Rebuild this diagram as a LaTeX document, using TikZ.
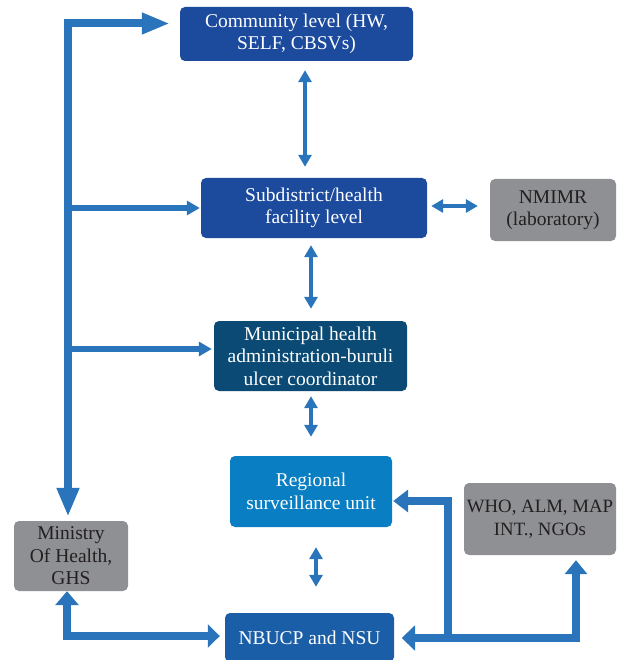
\documentclass[tikz,border=0pt]{standalone}
\usepackage{fontspec}
\setmainfont{Liberation Serif}
\usetikzlibrary{arrows.meta,calc}
\definecolor{boxblue}{HTML}{1C4A9D}
\definecolor{munblue}{HTML}{0B4A74}
\definecolor{regblue}{HTML}{0A7EC2}
\definecolor{nbblue}{HTML}{1B5EA8}
\definecolor{boxgray}{HTML}{8F9093}
\definecolor{arrowblue}{HTML}{2A74BB}
\definecolor{darktext}{HTML}{231F20}
\begin{document}
\begin{tikzpicture}[x=1pt,y=-1pt,
  box/.style={rounded corners=5pt, inner sep=0pt, align=center,
    font=\fontsize{19.5}{22.5}\selectfont, text=white},
  graybox/.style={box, fill=boxgray, text=darktext},
  thinarrow/.style={draw=arrowblue, line width=3.5pt,
    {Triangle[length=12pt,width=13pt]}-{Triangle[length=12pt,width=13pt]}},
  midarrow/.style={draw=arrowblue, line width=5.5pt,
    -{Triangle[length=13pt,width=14pt]}},
  thickline/.style={draw=arrowblue, line width=8pt}
]
\useasboundingbox (0,0) rectangle (616,660);
\clip (0,0) rectangle (616,660);

% boxes
\node[box, fill=boxblue, minimum width=233pt, minimum height=54pt] (comm) at (296.5,34) {Community level (HW,\\SELF, CBSVs)};
\node[box, fill=boxblue, minimum width=226pt, minimum height=60pt] (sub) at (314,208) {Subdistrict/health\\facility level};
\node[graybox, minimum width=126pt, minimum height=62pt] (nm) at (553,210) {NMIMR\\(laboratory)};
\node[box, fill=munblue, minimum width=193pt, minimum height=70pt] (mun) at (310.5,356) {Municipal health\\administration-buruli\\ulcer coordinator};
\node[box, fill=regblue, minimum width=162pt, minimum height=71pt] (reg) at (311,491.5) {Regional\\surveillance unit};
\node[graybox, minimum width=114pt, minimum height=70pt] (min) at (71,556) {Ministry\\Of Health,\\GHS};
\node[graybox, minimum width=152pt, minimum height=72pt, font=\fontsize{18.8}{22.5}\selectfont] (who) at (540,519) {WHO, ALM, MAP\\INT., NGOs};
\node[box, fill=nbblue, minimum width=169pt, minimum height=49pt] (nb) at (309.5,637.5) {NBUCP and NSU};

% helper coordinates
\coordinate (tl) at (68,23.5);
\coordinate (mw) at ($(mun.west)+(0,-7)$);
\coordinate (xa) at (305,0);
\coordinate (xb) at (311,0);
\coordinate (xc) at (316,0);
\coordinate (ya) at (0,206);
\coordinate (bl) at (67,636);
\coordinate (br) at (576,638);
\coordinate (bm) at (448,641);
\coordinate (bt) at (448,501);

% left big arrow
\draw[thickline, {Triangle[length=29pt,width=21pt]}-{Triangle[length=28pt,width=20pt]},
  shorten <=4pt, shorten >=10pt] (tl |- min.north) -- (tl) -- (tl -| comm.west);
\draw[midarrow, shorten >=1pt] (tl |- sub.west) -- (sub.west);
\draw[midarrow, shorten >=2pt] (tl |- mw) -- (mw);

% thin double arrows
\draw[thinarrow, shorten <=9pt, shorten >=11pt] (comm.south -| xa) -- (sub.north -| xa);
\draw[thinarrow, shorten <=7pt, shorten >=12pt] (sub.south -| xb) -- (mun.north -| xb);
\draw[thinarrow, shorten <=5pt, shorten >=19pt] (mun.south -| xb) -- (reg.north -| xb);
\draw[thinarrow, shorten <=20pt, shorten >=26pt] (reg.south -| xc) -- (nb.north -| xc);
\draw[thinarrow, shorten <=4pt, shorten >=12pt] (sub.east |- ya) -- (nm.west |- ya);

% bottom arrows
\draw[thickline, {Triangle[length=14pt,width=23pt]}-{Triangle[length=12pt,width=23pt]},
  shorten >=5pt] (min.south -| bl) -- (bl) -- (bl -| nb.west);
\draw[thickline, -{Triangle[length=15pt,width=22pt]}, shorten >=1pt]
  (bm) -- (bt) -- (bt -| reg.east);
\draw[thickline, {Triangle[length=13.5pt,width=25pt]}-{Triangle[length=14pt,width=22pt]},
  shorten <=7.5pt, shorten >=5pt] (nb.east |- br) -- (br) -- (br |- who.south);
\end{tikzpicture}
\end{document}
